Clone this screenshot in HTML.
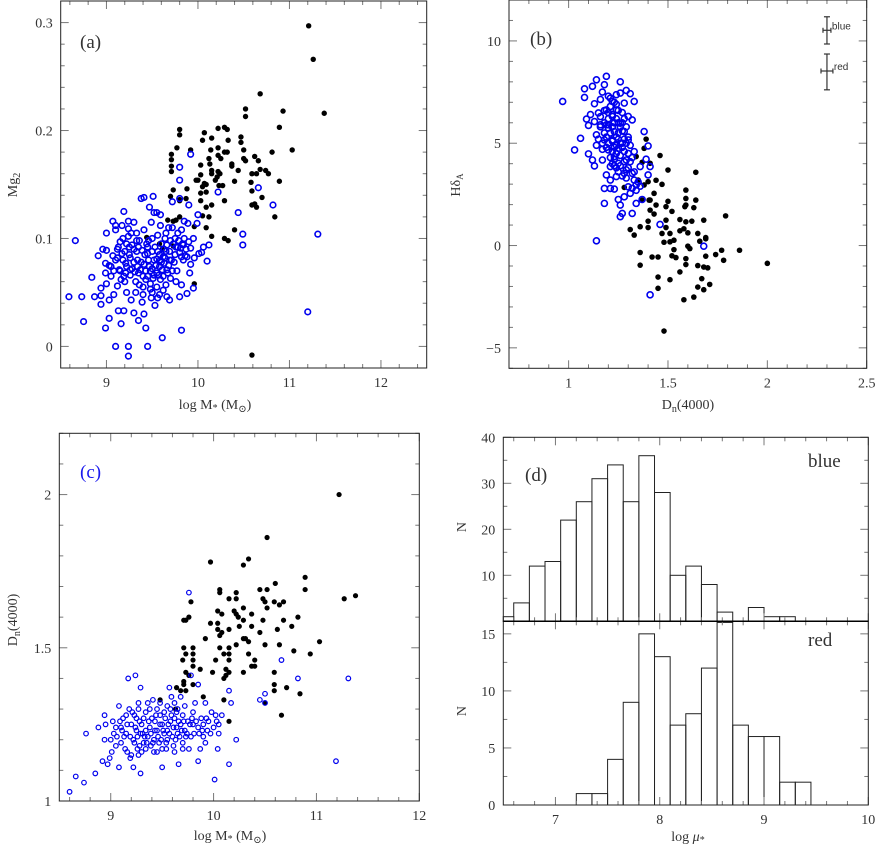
<!DOCTYPE html>
<html><head><meta charset="utf-8"><style>
html,body{margin:0;padding:0;background:#fff;}
svg{display:block;}
text{font-family:"Liberation Serif","DejaVu Serif",serif;fill:#333;}
</style></head><body>
<svg id="fig" width="877" height="848" viewBox="0 0 877 848" xmlns="http://www.w3.org/2000/svg"></svg>
<script>
// ---------- DATA ----------
const aRed = [[11.21,0.297],[11.26,0.266],[11.38,0.216],[10.68,0.234],[10.52,0.220],[10.52,0.213],[10.93,0.218],[10.89,0.203],[11.03,0.182],[10.81,0.180],[9.80,0.201],[9.80,0.196],[9.71,0.178],[9.71,0.173],[9.71,0.167],[9.71,0.162],[9.77,0.184],[9.92,0.182],[10.07,0.198],[10.05,0.191],[10.15,0.193],[10.22,0.202],[10.29,0.203],[10.32,0.201],[10.33,0.191],[10.47,0.194],[10.47,0.189],[10.50,0.182],[10.22,0.184],[10.14,0.182],[10.29,0.180],[10.32,0.180],[10.22,0.177],[10.12,0.174],[10.25,0.174],[10.50,0.174],[10.52,0.172],[10.62,0.176],[10.66,0.172],[10.03,0.168],[10.13,0.169],[10.37,0.169],[10.37,0.167],[10.44,0.163],[10.68,0.164],[10.74,0.163],[10.77,0.160],[10.15,0.163],[10.15,0.160],[10.22,0.162],[10.24,0.160],[10.21,0.157],[10.03,0.159],[9.98,0.154],[10.00,0.154],[10.05,0.148],[10.07,0.151],[10.09,0.150],[10.19,0.154],[10.27,0.149],[10.40,0.153],[10.23,0.149],[10.59,0.160],[10.64,0.160],[10.58,0.152],[10.89,0.153],[9.88,0.146],[9.73,0.145],[9.70,0.139],[9.80,0.136],[9.87,0.137],[9.80,0.135],[10.03,0.142],[10.09,0.143],[10.03,0.135],[10.29,0.135],[10.59,0.144],[10.70,0.138],[10.62,0.132],[10.64,0.129],[10.59,0.131],[10.09,0.129],[10.15,0.131],[10.84,0.120],[9.80,0.120],[10.12,0.120],[10.05,0.121],[9.67,0.117],[9.73,0.116],[9.76,0.117],[9.96,0.111],[10.09,0.110],[10.40,0.108],[10.15,0.102],[10.29,0.100],[10.33,0.098],[9.44,0.101],[9.58,0.095],[9.61,0.090],[9.73,0.093],[9.96,0.058],[10.59,-0.008]];
const aBlue = [[8.66,0.098],[8.59,0.046],[8.73,0.046],[8.75,0.023],[8.84,0.064],[8.87,0.046],[8.91,0.084],[8.94,0.054],[8.94,0.047],[8.94,0.039],[8.96,0.090],[8.99,0.077],[8.99,0.068],[8.99,0.017],[9.00,0.105],[9.00,0.089],[9.00,0.058],[9.03,0.043],[9.03,0.026],[9.05,0.074],[9.07,0.116],[9.07,0.084],[9.08,0.048],[9.10,0.112],[9.10,0.108],[9.10,0.000],[9.12,0.082],[9.12,0.056],[9.13,0.033],[9.14,0.071],[9.15,0.097],[9.16,0.021],[9.17,0.112],[9.17,0.086],[9.19,0.125],[9.19,0.033],[9.19,0.065],[9.21,0.077],[9.24,0.000],[9.24,-0.009],[9.22,0.050],[9.24,0.116],[9.24,0.109],[9.25,0.092],[9.26,0.071],[9.27,0.043],[9.30,0.031],[9.30,0.115],[9.33,0.105],[9.33,0.098],[9.34,0.080],[9.35,0.024],[9.36,0.057],[9.38,0.137],[9.41,0.138],[9.39,0.041],[9.40,0.065],[9.41,0.030],[9.41,0.108],[9.43,0.017],[9.45,0.000],[9.45,0.086],[9.46,0.098],[9.47,0.129],[9.47,0.074],[9.48,0.053],[9.49,0.045],[9.51,0.139],[9.49,0.115],[9.52,0.124],[9.53,0.038],[9.55,0.081],[9.55,0.124],[9.56,0.103],[9.56,0.045],[9.58,0.074],[9.59,0.122],[9.59,0.112],[9.59,0.062],[9.61,0.008],[9.62,0.052],[9.63,0.077],[9.64,0.100],[9.65,0.057],[9.66,0.071],[9.68,0.110],[9.69,0.080],[9.69,0.043],[9.70,0.063],[9.72,0.134],[9.80,0.166],[9.80,0.154],[9.78,0.105],[9.80,0.137],[9.80,0.087],[9.80,0.046],[9.81,0.091],[9.82,0.015],[9.82,0.057],[9.82,0.108],[9.83,0.095],[9.84,0.080],[9.85,0.116],[9.86,0.084],[9.92,0.178],[9.88,0.049],[9.89,0.114],[9.90,0.131],[9.91,0.068],[9.92,0.091],[9.95,0.100],[9.95,0.054],[9.96,0.082],[9.99,0.114],[10.00,0.122],[10.01,0.086],[10.04,0.087],[10.06,0.092],[10.10,0.079],[10.12,0.094],[10.22,0.143],[10.44,0.124],[10.49,0.104],[10.49,0.094],[10.66,0.147],[10.82,0.131],[11.20,0.032],[11.31,0.104],[9.25,0.085],[9.28,0.072],[9.30,0.090],[9.35,0.068],[9.38,0.078],[9.42,0.085],[9.45,0.065],[9.50,0.072],[9.52,0.080],[9.55,0.068],[9.58,0.085],[9.60,0.095],[9.62,0.065],[9.65,0.088],[9.68,0.075],[9.70,0.098],[9.72,0.070],[9.75,0.085],[9.75,0.100],[9.78,0.092],[9.20,0.060],[9.22,0.095],[9.15,0.070],[9.10,0.080],[9.05,0.065],[9.32,0.060],[9.40,0.055],[9.48,0.058],[9.55,0.055],[9.60,0.078],[9.45,0.092],[9.36,0.098],[9.27,0.105],[9.50,0.100],[9.65,0.105],[9.88,0.083],[9.92,0.076],[9.85,0.100],[9.72,0.110],
[9.03,0.075],[9.08,0.070],[9.13,0.092],[9.18,0.080],[9.20,0.088],[9.22,0.074],[9.26,0.066],[9.28,0.094],[9.30,0.078],[9.31,0.069],[9.33,0.088],[9.35,0.092],[9.37,0.071],[9.39,0.089],[9.41,0.076],[9.43,0.062],[9.44,0.095],[9.46,0.080],[9.48,0.070],[9.50,0.088],[9.51,0.063],[9.53,0.092],[9.54,0.075],[9.56,0.088],[9.57,0.066],[9.59,0.080],[9.61,0.071],[9.63,0.090],[9.64,0.082],[9.66,0.094],[9.67,0.068],[9.69,0.088],[9.71,0.080],[9.73,0.095],[9.74,0.078],[9.76,0.092],[9.77,0.070],[9.79,0.098],[9.82,0.083],[9.84,0.094],[9.87,0.090],[9.90,0.097],[9.16,0.062],[9.21,0.068],[9.26,0.082],[9.34,0.074],[9.43,0.070],[9.52,0.066],[9.62,0.083],[9.12,0.090],[9.18,0.100],[9.24,0.102],[9.32,0.050],[9.40,0.048],[9.50,0.050],[9.58,0.048],[9.66,0.046],[9.76,0.060]];
const bRed = [[2.00,-0.87],[1.86,-0.23],[1.79,1.45],[1.77,-0.23],[1.78,-0.72],[1.74,-0.44],[1.71,-1.9],[1.69,0.39],[1.69,0.33],[1.69,-0.52],[1.70,-1.09],[1.68,1.24],[1.68,-1.05],[1.68,-2.16],[1.67,-1.62],[1.66,0.21],[1.65,0.59],[1.65,-0.98],[1.65,-2.03],[1.64,3.58],[1.64,2.22],[1.63,1.85],[1.63,-2.52],[1.62,1.19],[1.61,-0.15],[1.60,0.62],[1.60,-0.03],[1.59,1.16],[1.59,-0.64],[1.59,-0.93],[1.59,2.71],[1.59,2.30],[1.59,1.98],[1.585,1.9],[1.58,-2.65],[1.58,0.82],[1.56,1.27],[1.56,0.72],[1.56,-1.29],[1.54,-0.59],[1.53,-0.2],[1.53,0.26],[1.52,1.67],[1.52,-0.5],[1.51,0.18],[1.51,0.59],[1.50,2.16],[1.50,3.69],[1.51,-1.67],[1.49,1.9],[1.49,1.24],[1.49,0.88],[1.48,-4.18],[1.48,0.16],[1.47,2.99],[1.46,4.4],[1.47,0.59],[1.45,-0.56],[1.45,-2.09],[1.45,-1.54],[1.44,3.19],[1.44,1.98],[1.43,2.55],[1.43,1.54],[1.42,-0.56],[1.41,1.73],[1.41,2.22],[1.405,2.22],[1.41,4.02],[1.40,0.88],[1.40,1.19],[1.40,3.12],[1.39,5.2],[1.38,4.75],[1.37,4.07],[1.37,2.22],[1.36,0.92],[1.36,-0.34],[1.36,-0.96],[1.34,4.35],[1.35,3.2],[1.33,0.51],[1.31,0.78],[1.28,2.84],[1.38,2.96]];
const bBlue = [[0.97,7.04],[1.03,4.67],[1.06,5.24],[1.08,7.24],[1.08,7.66],[1.09,6.18],[1.10,5.87],[1.10,4.48],[1.11,6.4],[1.12,7.78],[1.12,4.18],[1.13,6.93],[1.13,6.06],[1.13,3.89],[1.14,4.9],[1.14,8.1],[1.14,0.23],[1.14,5.41],[1.15,6.48],[1.16,7.14],[1.16,5.9],[1.17,7.5],[1.17,4.18],[1.18,2.79],[1.18,7.86],[1.18,5.16],[1.18,2.06],[1.19,3.45],[1.19,8.27],[1.19,6.63],[1.20,4.67],[1.20,5.74],[1.20,7.3],[1.21,3.86],[1.21,3.2],[1.21,2.79],[1.22,6.31],[1.22,5.16],[1.22,7.04],[1.23,4.35],[1.23,2.76],[1.23,5.57],[1.24,7.37],[1.24,3.37],[1.24,6.63],[1.25,4.75],[1.25,4.02],[1.25,2.25],[1.26,8.0],[1.26,1.98],[1.26,7.45],[1.26,5.98],[1.26,1.41],[1.27,1.57],[1.27,5.0],[1.28,3.53],[1.28,6.96],[1.28,2.38],[1.28,5.57],[1.29,7.58],[1.29,4.18],[1.30,2.87],[1.30,6.31],[1.30,5.16],[1.31,2.55],[1.31,7.42],[1.32,1.57],[1.32,6.14],[1.32,3.53],[1.33,4.59],[1.33,7.04],[1.34,2.06],[1.34,2.96],[1.36,3.86],[1.37,2.25],[1.38,5.57],[1.39,4.22],[1.40,3.45],[1.40,4.87],[1.41,3.86],[1.41,-2.41],[1.46,1.03],[1.68,-0.03],[1.18,6.0],[1.2,6.5],[1.22,5.8],[1.24,6.2],[1.25,5.5],[1.27,6.0],[1.28,5.2],[1.2,5.0],[1.22,4.6],[1.24,4.9],[1.26,4.4],[1.18,5.5],[1.16,5.8],[1.23,7.0],[1.21,6.8],[1.19,5.3],[1.25,6.6],[1.27,4.8],[1.29,5.0],[1.3,4.5],[1.23,4.2],[1.21,4.3],[1.17,4.7],[1.15,5.2],[1.26,3.9],[1.28,4.1],[1.31,4.9],[1.32,4.3],[1.33,3.6],[1.29,3.3],[1.24,5.3],[1.2,5.9],[1.22,6.4],[1.26,5.8],[1.28,6.2],[1.18,6.6],[1.16,6.3],[1.3,3.8],[1.24,3.8],[1.35,3.1],[1.34,2.7],
[1.19,4.8],[1.21,5.5],[1.23,4.8],[1.25,5.2],[1.27,5.6],[1.29,5.8],[1.22,5.1],[1.24,4.5],[1.26,5.0],[1.28,4.6],[1.2,6.2],[1.23,6.0],[1.25,6.0],[1.27,6.5],[1.21,7.2],[1.24,6.9],[1.3,5.3],[1.31,4.1],[1.29,3.7],[1.27,3.4],[1.25,3.6],[1.23,3.9],[1.17,5.0],[1.19,5.9],[1.22,4.0],[1.33,3.2],[1.36,2.9],[1.32,2.8]];
const cRed = [[11.22,2.00],[10.52,1.86],[9.97,1.78],[10.34,1.79],[10.29,1.77],[10.89,1.73],[10.89,1.69],[10.60,1.71],[10.52,1.69],[10.45,1.69],[10.06,1.69],[10.06,1.68],[10.22,1.68],[10.15,1.66],[10.22,1.66],[10.48,1.66],[10.50,1.65],[11.27,1.66],[11.38,1.67],[9.78,1.65],[10.59,1.65],[10.64,1.64],[10.68,1.65],[10.29,1.63],[10.52,1.63],[10.04,1.62],[10.08,1.61],[10.20,1.62],[10.22,1.61],[10.24,1.60],[10.37,1.61],[9.71,1.59],[9.73,1.59],[9.76,1.60],[9.97,1.58],[10.04,1.58],[10.29,1.59],[10.48,1.59],[10.68,1.59],[10.82,1.60],[10.25,1.57],[10.37,1.57],[10.04,1.56],[10.08,1.55],[10.15,1.56],[10.62,1.56],[10.76,1.57],[10.45,1.55],[10.06,1.54],[9.92,1.53],[10.29,1.53],[10.31,1.53],[10.34,1.52],[11.03,1.52],[10.22,1.51],[10.50,1.51],[10.64,1.51],[10.06,1.50],[10.15,1.50],[9.71,1.50],[9.80,1.50],[10.78,1.49],[10.94,1.48],[10.34,1.48],[9.73,1.48],[9.80,1.48],[10.10,1.48],[10.15,1.48],[9.70,1.46],[9.80,1.46],[10.02,1.46],[10.15,1.46],[10.40,1.46],[9.80,1.44],[10.37,1.44],[10.40,1.44],[10.12,1.43],[9.87,1.43],[10.29,1.42],[9.73,1.42],[9.99,1.42],[10.15,1.42],[10.10,1.40],[10.12,1.41],[9.76,1.41],[9.71,1.39],[9.80,1.38],[9.71,1.38],[10.59,1.42],[10.59,1.38],[10.71,1.37],[10.59,1.36],[9.64,1.37],[9.68,1.36],[9.73,1.36],[9.90,1.34],[10.84,1.35],[10.10,1.33],[9.48,1.33],[10.50,1.32],[9.63,1.30],[10.66,1.28],[10.15,1.26]];
const cBlue = [[8.60,1.03],[8.66,1.08],[8.74,1.06],[8.76,1.22],[8.85,1.09],[8.88,1.24],[8.92,1.13],[8.94,1.28],[8.94,1.20],[8.97,1.12],[8.99,1.14],[9.01,1.16],[9.02,1.26],[9.03,1.22],[9.05,1.18],[9.08,1.31],[9.08,1.11],[9.10,1.24],[9.13,1.21],[9.15,1.28],[9.17,1.40],[9.19,1.14],[9.22,1.11],[9.23,1.28],[9.24,1.41],[9.26,1.17],[9.27,1.30],[9.29,1.37],[9.29,1.09],[9.31,1.22],[9.34,1.29],[9.36,1.32],[9.39,1.18],[9.41,1.33],[9.43,1.26],[9.45,1.16],[9.48,1.28],[9.50,1.11],[9.52,1.22],[9.55,1.20],[9.57,1.37],[9.59,1.34],[9.61,1.18],[9.64,1.24],[9.66,1.12],[9.68,1.34],[9.70,1.19],[9.73,1.21],[9.76,1.68],[9.76,1.17],[9.78,1.41],[9.80,1.25],[9.82,1.32],[9.85,1.13],[9.85,1.38],[9.87,1.17],[9.90,1.25],[9.92,1.19],[9.92,1.32],[9.94,1.23],[9.98,1.29],[10.01,1.07],[10.04,1.17],[10.05,1.25],[10.08,1.28],[10.15,1.12],[10.15,1.36],[10.17,1.32],[10.22,1.20],[10.45,1.33],[10.50,1.35],[10.50,1.32],[10.66,1.46],[10.82,1.40],[11.19,1.13],[11.31,1.40],[9.1,1.19],[9.15,1.22],[9.2,1.25],[9.22,1.2],[9.25,1.23],[9.28,1.18],[9.3,1.25],[9.33,1.21],[9.35,1.19],[9.38,1.24],[9.4,1.27],[9.42,1.2],[9.45,1.23],[9.47,1.19],[9.5,1.25],[9.52,1.29],[9.55,1.23],[9.58,1.26],[9.6,1.21],[9.62,1.27],[9.65,1.22],[9.68,1.25],[9.7,1.28],[9.72,1.23],[9.75,1.26],[9.78,1.21],[9.8,1.29],[9.85,1.24],[9.88,1.27],[9.9,1.21],[9.95,1.26],[10.0,1.24],[10.02,1.28],[10.05,1.22],[9.05,1.24],[9.12,1.27],[9.18,1.3],[9.25,1.27],[9.3,1.16],[9.38,1.3],[9.45,1.3],[9.5,1.17],[9.58,1.3],[9.65,1.3],[9.7,1.17],[9.2,1.15],[9.0,1.2],[8.95,1.25],
[9.06,1.21],[9.09,1.26],[9.11,1.23],[9.14,1.17],[9.16,1.25],[9.19,1.21],[9.21,1.29],[9.23,1.19],[9.24,1.24],[9.26,1.21],[9.28,1.26],[9.29,1.22],[9.32,1.19],[9.32,1.27],[9.34,1.23],[9.36,1.21],[9.37,1.26],[9.39,1.22],[9.41,1.19],[9.43,1.23],[9.44,1.28],[9.46,1.21],[9.48,1.25],[9.49,1.20],[9.51,1.23],[9.53,1.27],[9.54,1.19],[9.56,1.25],[9.57,1.22],[9.59,1.28],[9.61,1.24],[9.63,1.20],[9.64,1.29],[9.66,1.26],[9.67,1.21],[9.69,1.23],[9.71,1.26],[9.74,1.22],[9.77,1.25],[9.79,1.27],[9.81,1.22],[9.83,1.26],[9.86,1.22],[9.89,1.23],[9.93,1.27],[9.97,1.22],[10.03,1.26],[9.16,1.16],[9.27,1.15],[9.34,1.17],[9.42,1.16],[9.54,1.17],[9.62,1.16],[9.27,1.32],[9.48,1.32],[9.55,1.31],[9.62,1.32],[9.72,1.31]];
const histStartBlue = 6.45;
const histStartRed = 6.45;
const histBinWidth = 0.15;
const blueCounts = [1,4,12,13,22,26,31,34,26,36,28,10,12,8,2,0,3,1,1];
const redCounts  = [0,0,0,0,0,1,1,4,9,15,13,7,8,12,16,7,6,6,2,2];
const errBars = [{name:'blue',x:2.30,y:10.52,dx:0.02,dyLo:9.85,dyHi:11.18},{name:'red',x:2.30,y:8.53,dx:0.03,dyLo:7.61,dyHi:9.36}];
const aXTicks=[9,10,11,12], aYTicks=[0,0.1,0.2,0.3];
const bXTicks=[1,1.5,2,2.5], bYTicks=[-5,0,5,10];
const cXTicks=[9,10,11,12], cYTicks=[1,1.5,2];
const dXTicks=[7,8,9,10], dTopYTicks=[10,20,30,40], dBotYTicks=[0,5,10,15];

// ---------- DRAW ----------
const NS='http://www.w3.org/2000/svg';
const svg=document.getElementById('fig');
function el(tag,attrs,parent){const e=document.createElementNS(NS,tag);for(const k in attrs)e.setAttribute(k,attrs[k]);(parent||svg).appendChild(e);return e;}
function mkAxis(l,r,t,b,x0,x1,y0,y1){return {l,r,t,b,sx:v=>l+(v-x0)/(x1-x0)*(r-l),sy:v=>b-(v-y0)/(y1-y0)*(b-t),x0,x1,y0,y1};}
function frame(ax,name,xMinor,yMinor,xMaj,yMaj,xLabels,yLabels,fmt){
  const g=el('g',{});
  
  
  const eps=1e-6;
  for(let v=Math.ceil(ax.x0/xMinor-eps)*xMinor; v<=ax.x1+eps; v+=xMinor){
    const major=xMaj.some(m=>Math.abs(m-v)<eps); const L=major?8:4; const x=ax.sx(v);
    el('line',{x1:x,x2:x,y1:ax.b,y2:ax.b-L,stroke:'#777','stroke-width':1},g);
    el('line',{x1:x,x2:x,y1:ax.t,y2:ax.t+L,stroke:'#777','stroke-width':1},g);
  }
  for(let v=Math.ceil(ax.y0/yMinor-eps)*yMinor; v<=ax.y1+eps; v+=yMinor){
    const major=yMaj.some(m=>Math.abs(m-v)<eps); const L=major?8:4; const y=ax.sy(v);
    el('line',{x1:ax.l,x2:ax.l+L,y1:y,y2:y,stroke:'#777','stroke-width':1},g);
    el('line',{x1:ax.r,x2:ax.r-L,y1:y,y2:y,stroke:'#777','stroke-width':1},g);
  }
  el('rect',{x:ax.l,y:ax.t,width:ax.r-ax.l,height:ax.b-ax.t,fill:'none',stroke:'#222','stroke-width':1},g);
  if(xLabels) xMaj.forEach(v=>{const t=el('text',{x:ax.sx(v),y:ax.b+19,'text-anchor':'middle','font-size':14},g);t.textContent=fmt?fmt(v):String(v);
    });
  if(yLabels) yMaj.forEach(v=>{const t=el('text',{x:ax.l-8,y:ax.sy(v)+5,'text-anchor':'end','font-size':14},g);t.textContent=String(v).replace('-','\u2212');
    });
  return g;
}
function scatter(ax,pts,type,r,sw,name){
  const g=el('g',{});
  
  
  pts.forEach(p=>{
    const c=el('circle',{cx:ax.sx(p[0]),cy:ax.sy(p[1]),r:r},g);
    if(type==='open'){c.setAttribute('fill','none');c.setAttribute('stroke','#0000ee');c.setAttribute('stroke-width',sw);}
    else c.setAttribute('fill','#000');
    
    
  });
}
function txt(x,y,s,size,attrs){const t=el('text',Object.assign({x:x,y:y,'font-size':size},attrs||{}));t.textContent=s;return t;}

// Panel a
const A=mkAxis(60.7,426.7,1,368,8.5,12.5,-0.02,0.32);
frame(A,'panel-a',0.2,0.02,aXTicks,aYTicks,true,true);
scatter(A,aRed,'fill',2.7,0,'panel-a-red-points');
scatter(A,aBlue,'open',2.8,1.6,'panel-a-blue-points');
let t=txt(80,48,'(a)',19);
t=txt(215,409,'',14,{'text-anchor':'middle'});t.innerHTML='log M<tspan font-size="10" dy="2">*</tspan><tspan dy="-2"> (M</tspan><tspan font-size="10" dy="3">\u2299</tspan><tspan dy="-3">)</tspan>';

t=txt(0,0,'',14,{transform:'translate(17,185) rotate(-90)','text-anchor':'middle'});t.innerHTML='Mg<tspan font-size="10" dy="3">2</tspan>';


// Panel b
const B=mkAxis(509,866.7,0,368.3,0.7,2.5,-6,12);
frame(B,'panel-b',0.1,1,bXTicks,bYTicks,true,true);
scatter(B,bRed,'fill',2.8,0,'panel-b-red-points');
scatter(B,bBlue,'open',3,1.6,'panel-b-blue-points');
errBars.forEach(e=>{
  const g=el('g',{});
  
  
  const x=B.sx(e.x),y=B.sy(e.y),y1=B.sy(e.dyLo),y2=B.sy(e.dyHi),x1=B.sx(e.x-e.dx),x2=B.sx(e.x+e.dx);
  el('line',{x1:x,x2:x,y1:y1,y2:y2,stroke:'#333','stroke-width':1.2},g);
  el('line',{x1:x-3,x2:x+3,y1:y1,y2:y1,stroke:'#333','stroke-width':1.2},g);
  el('line',{x1:x-3,x2:x+3,y1:y2,y2:y2,stroke:'#333','stroke-width':1.2},g);
  el('line',{x1:x1,x2:x2,y1:y,y2:y,stroke:'#333','stroke-width':1.2},g);
  el('line',{x1:x1,x2:x1,y1:y-2.5,y2:y+2.5,stroke:'#333','stroke-width':1.2},g);
  el('line',{x1:x2,x2:x2,y1:y-2.5,y2:y+2.5,stroke:'#333','stroke-width':1.2},g);
  const tt=el('text',{x:x2+1,y:y-1,'font-size':10,style:'font-family:"Liberation Sans",sans-serif'},g);tt.textContent=e.name;
});
t=txt(530,45,'(b)',19);
t=txt(688,409,'',14,{'text-anchor':'middle'});t.innerHTML='D<tspan font-size="10" dy="3">n</tspan><tspan dy="-3">(4000)</tspan>';

t=txt(0,0,'',14,{transform:'translate(460,185) rotate(-90)','text-anchor':'middle'});t.innerHTML='H\u03b4<tspan font-size="9" dy="3">A</tspan>';


// Panel c
const C=mkAxis(59.3,419.3,433.3,801,8.5,12,1,2.2);
frame(C,'panel-c',0.2,0.1,cXTicks,cYTicks,true,true);
scatter(C,cRed,'fill',2.6,0,'panel-c-red-points');
scatter(C,cBlue,'open',2.3,1.2,'panel-c-blue-points');
t=txt(80,478,'(c)',19,{style:'fill:#1a1aee'});
t=txt(230,840,'',14,{'text-anchor':'middle'});t.innerHTML='log M<tspan font-size="10" dy="2">*</tspan><tspan dy="-2"> (M</tspan><tspan font-size="10" dy="3">\u2299</tspan><tspan dy="-3">)</tspan>';

t=txt(0,0,'',14,{transform:'translate(17,620) rotate(-90)','text-anchor':'middle'});t.innerHTML='D<tspan font-size="10" dy="3">n</tspan><tspan dy="-3">(4000)</tspan>';


// Panel d
const DT=mkAxis(503.3,868.3,437.3,621.3,6.5,10,0,40);
const DB=mkAxis(503.3,868.3,621.3,805,6.5,10,0,16.1);
function hist(ax,start,counts,name){
  const g=el('g',{});
  
  
  counts.forEach((n,i)=>{
    if(n<=0) return;
    const a=Math.max(start+i*histBinWidth,ax.x0), b=start+(i+1)*histBinWidth;
    const x1=ax.sx(a),x2=ax.sx(b),y=ax.sy(Math.min(n,ax.y1));
    const r=el('rect',{x:x1,y:y,width:x2-x1,height:ax.b-y,fill:'none',stroke:'#222','stroke-width':1},g);
    
    
  });
}
hist(DT,histStartBlue,blueCounts,'blue-histogram');
hist(DB,histStartRed,redCounts,'red-histogram');
frame(DT,'panel-d-top',0.2,5,dXTicks,dTopYTicks,false,true);
frame(DB,'panel-d-bottom',0.2,2.5,dXTicks,dBotYTicks,true,true);
el('line',{x1:503.3,x2:868.3,y1:621.3,y2:621.3,stroke:'#000','stroke-width':1.5});
t=txt(525,481,'(d)',19);
t=txt(808,467,'blue',19);
t=txt(808,646,'red',19);
t=txt(688,841,'',14,{'text-anchor':'middle'});t.innerHTML='log <tspan font-style="italic">\u03bc</tspan><tspan font-size="10" dy="2">*</tspan>';

t=txt(0,0,'N',14,{transform:'translate(466,527) rotate(-90)','text-anchor':'middle'});
t=txt(0,0,'N',14,{transform:'translate(466,711) rotate(-90)','text-anchor':'middle'});
</script>
</body></html>
